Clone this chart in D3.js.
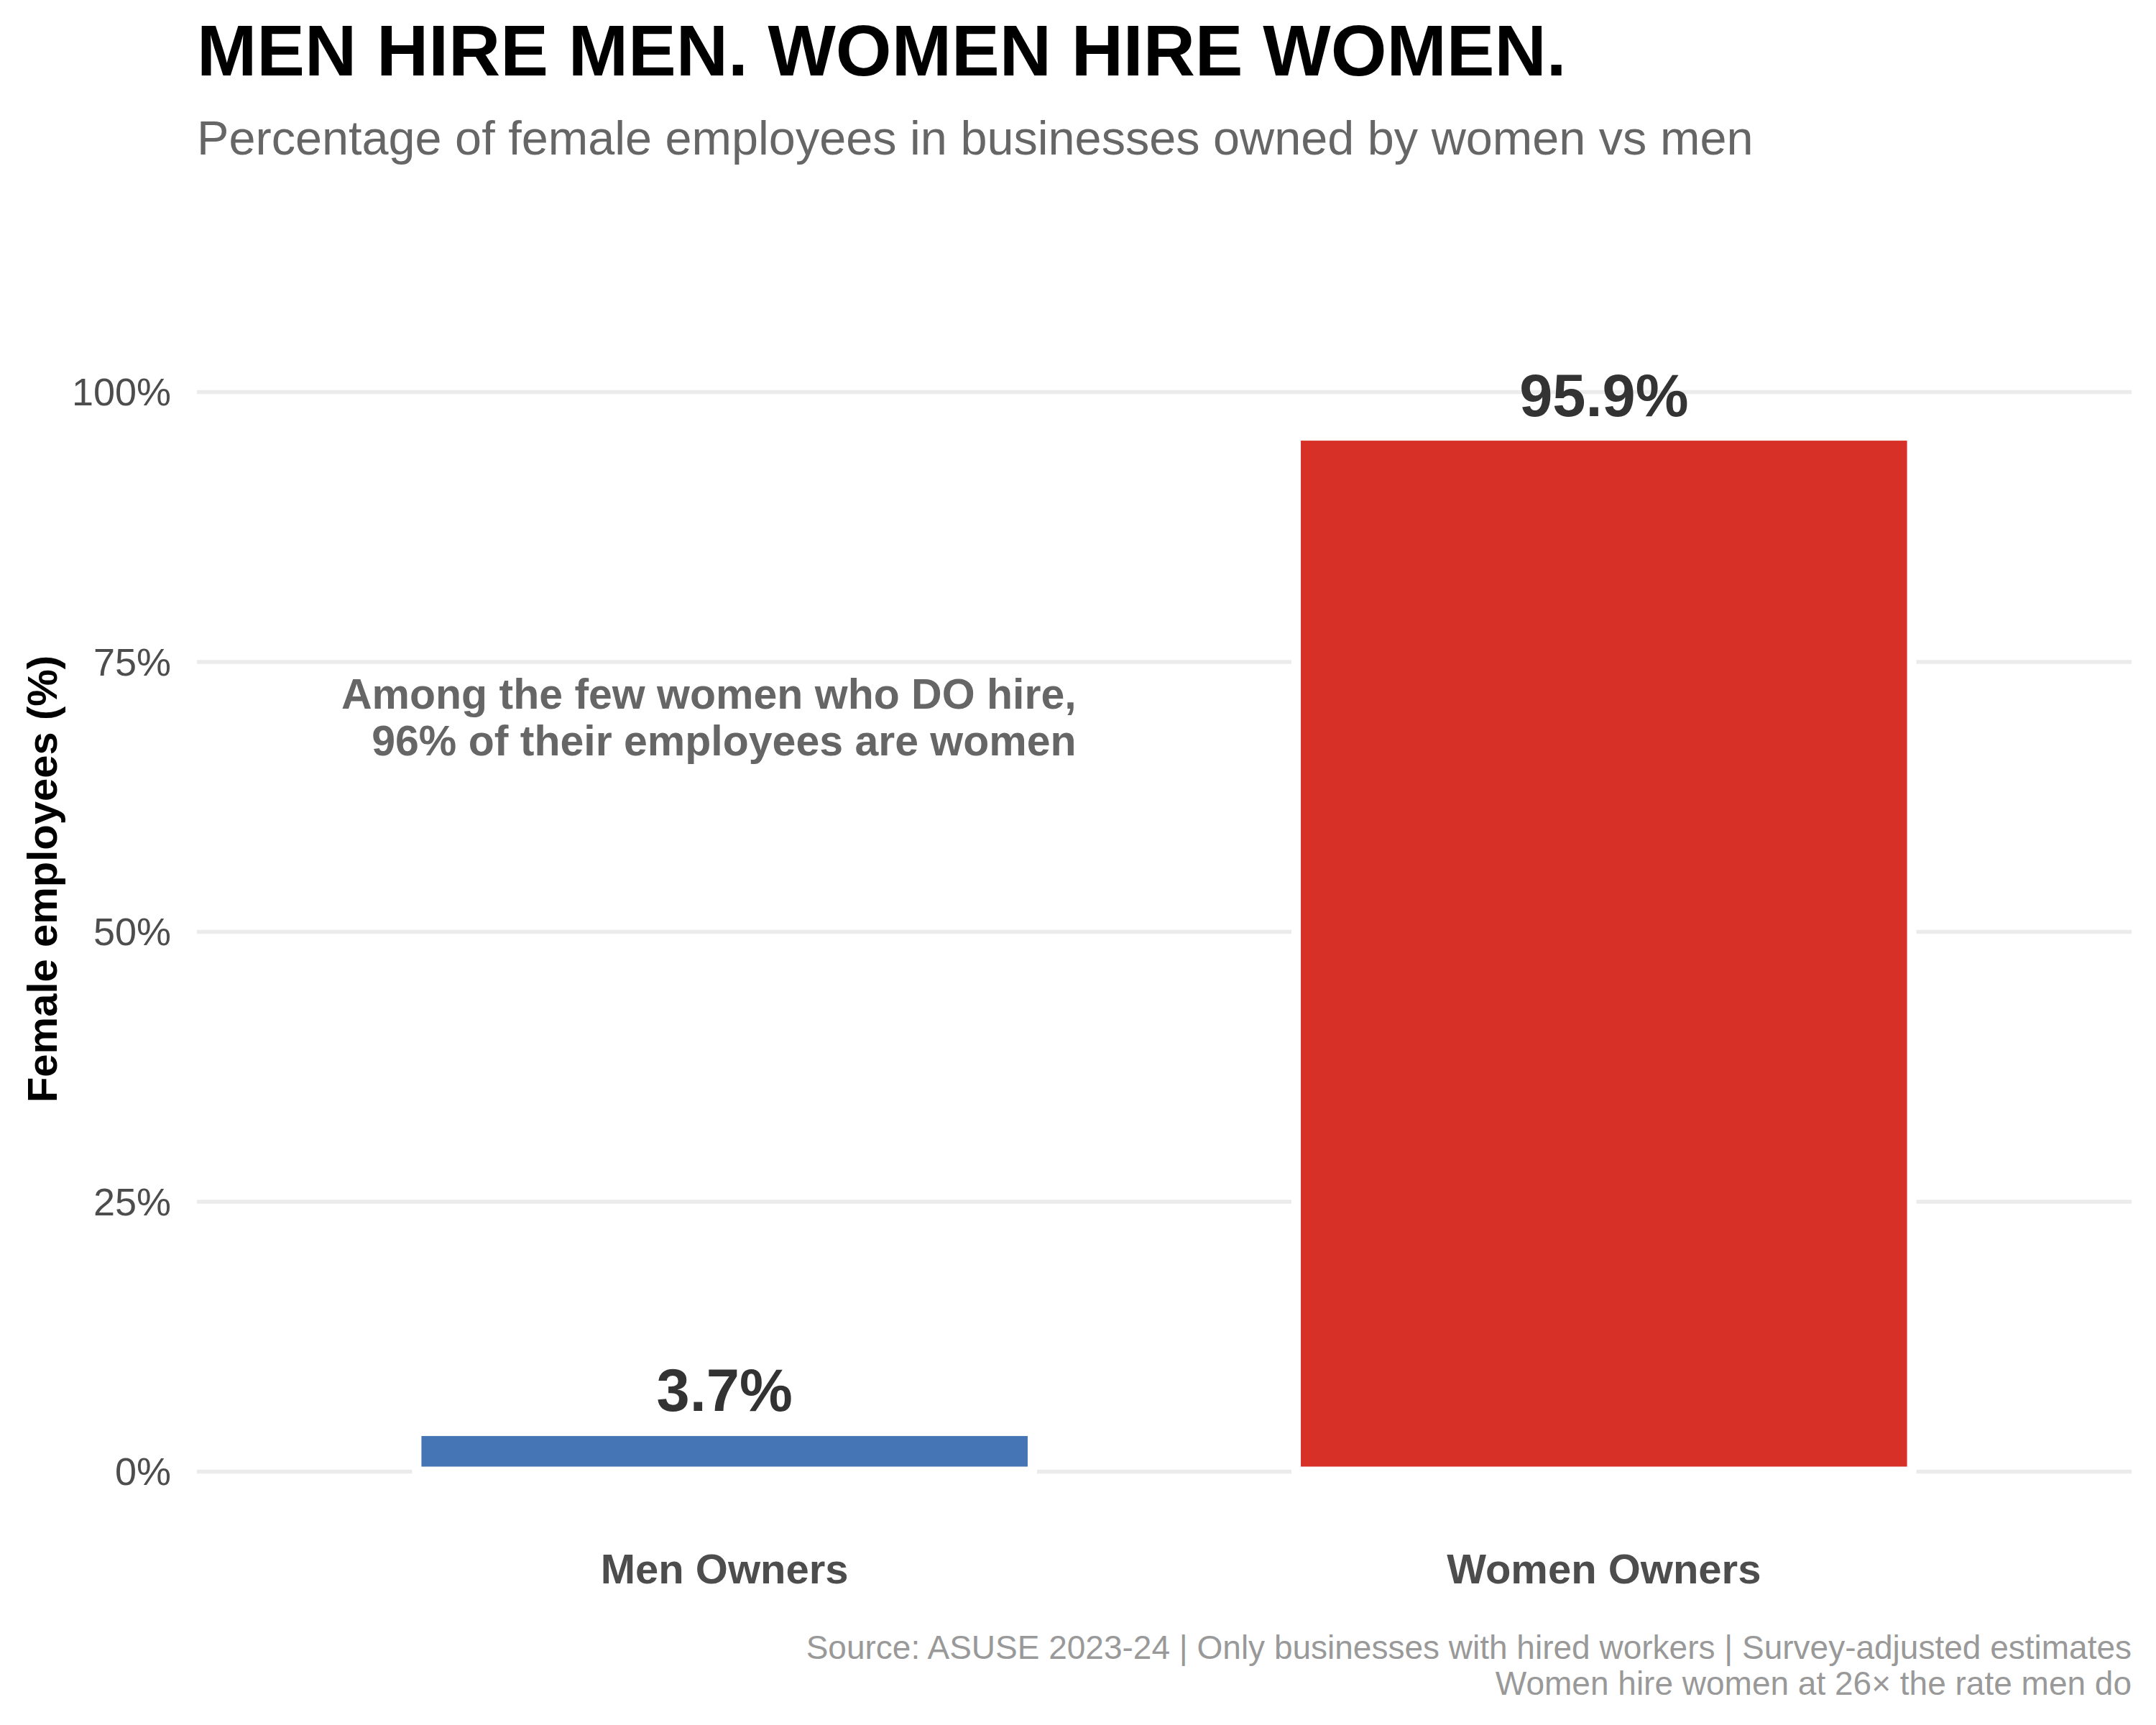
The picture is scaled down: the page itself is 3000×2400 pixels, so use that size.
<!DOCTYPE html>
<html>
<head>
<meta charset="utf-8">
<script src="https://cdn.jsdelivr.net/npm/d3@7"></script>
<style>
	body { margin: 0; background: #fff; }
	text { font-family: "Liberation Sans", Arial, Helvetica, sans-serif; }
</style>
</head>
<body>
<div id="chart"></div>
<script>
var categories = ["Men Owners", "Women Owners"];
var femaleShare = [3.7, 95.9];
var barColors = ["#4575b4", "#d73027"];
var yTicks = [0, 25, 50, 75, 100];
var noteLines = ["Among the few women who DO hire,", "96% of their employees are women"];
var captionLines = [
	"Source: ASUSE 2023-24 | Only businesses with hired workers | Survey-adjusted estimates",
	"Women hire women at 26\u00d7 the rate men do"
];

var width = 3000, height = 2400;
var panel = { left: 274, right: 2966, top: 545, bottom: 2047 };

var svg = d3.select("#chart")
	.append("svg")
	.attr("width", width)
	.attr("height", height);

svg.append("rect")
	.attr("width", width)
	.attr("height", height)
	.attr("fill", "#fff");

var x = d3.scaleBand()
	.domain(categories)
	.range([panel.left, panel.right])
	.paddingInner(0.3)
	.paddingOuter(0.25);

var y = d3.scaleLinear()
	.domain([0, 100])
	.range([panel.bottom, panel.top]);

// gridlines + tick labels
var yAxis = svg.append("g")
	.attr("transform", "translate(" + panel.left + ",0)")
	.call(d3.axisLeft(y)
		.tickValues(yTicks)
		.tickFormat(function (d) { return d + "%"; })
		.tickSize(-(panel.right - panel.left))
		.tickPadding(36));
yAxis.select(".domain").remove();
yAxis.selectAll(".tick line")
	.attr("stroke", "#ebebeb")
	.attr("stroke-width", 5.5);
yAxis.selectAll(".tick text")
	.attr("fill", "#4d4d4d")
	.attr("font-size", 54)
	.attr("dy", "0.35em")
	.style("font-family", "'Liberation Sans', Arial, sans-serif");

var xAxis = svg.append("g")
	.attr("transform", "translate(0," + y(0) + ")")
	.call(d3.axisBottom(x).tickSize(0).tickPadding(115));
xAxis.select(".domain").remove();
xAxis.selectAll(".tick text")
	.attr("fill", "#4d4d4d")
	.attr("font-size", 58)
	.attr("font-weight", "bold")
	.style("font-family", "'Liberation Sans', Arial, sans-serif");

var bars = svg.append("g");
bars.selectAll("rect")
	.data(femaleShare)
	.enter()
	.append("rect")
	.attr("x", function (d, i) { return x(categories[i]); })
	.attr("y", function (d) { return y(d); })
	.attr("width", x.bandwidth())
	.attr("height", function (d) { return y(0) - y(d); })
	.attr("fill", function (d, i) { return barColors[i]; })
	.attr("stroke", "#fff")
	.attr("stroke-width", 13);

bars.selectAll("text")
	.data(femaleShare)
	.enter()
	.append("text")
	.attr("x", function (d, i) { return x(categories[i]) + x.bandwidth() / 2; })
	.attr("y", function (d) { return y(d) - 28; })
	.attr("text-anchor", "middle")
	.attr("font-size", 83)
	.attr("font-weight", "bold")
	.attr("fill", "#333")
	.text(function (d) { return d.toFixed(1) + "%"; });

// note sits right-aligned 0.4 units past the men's bar centre, around 70%
var noteX = x(categories[0]) + x.bandwidth() / 2 + 0.4 * x.step();
svg.append("text")
	.attr("text-anchor", "end")
	.attr("font-size", 59)
	.attr("font-weight", "bold")
	.attr("fill", "#666")
	.selectAll("tspan")
	.data(noteLines)
	.enter()
	.append("tspan")
	.attr("x", noteX)
	.attr("y", function (d, i) { return y(70) - 10 + i * 65; })
	.text(function (d) { return d; });

svg.append("text")
	.attr("transform", "translate(79," + 1223 + ") rotate(-90)")
	.attr("text-anchor", "middle")
	.attr("font-size", 58)
	.attr("font-weight", "bold")
	.attr("fill", "#000")
	.text("Female employees (%)");

svg.append("text")
	.attr("x", panel.left)
	.attr("y", 105)
	.attr("font-size", 100)
	.attr("font-weight", "bold")
	.attr("fill", "#000")
	.text("MEN HIRE MEN. WOMEN HIRE WOMEN.");

svg.append("text")
	.attr("x", panel.left)
	.attr("y", 215)
	.attr("font-size", 66.6)
	.attr("fill", "#666")
	.text("Percentage of female employees in businesses owned by women vs men");

svg.append("text")
	.attr("text-anchor", "end")
	.attr("font-size", 46)
	.attr("fill", "#999")
	.selectAll("tspan")
	.data(captionLines)
	.enter()
	.append("tspan")
	.attr("x", panel.right)
	.attr("y", function (d, i) { return 2308 + i * 50; })
	.text(function (d) { return d; });
</script>
</body>
</html>
